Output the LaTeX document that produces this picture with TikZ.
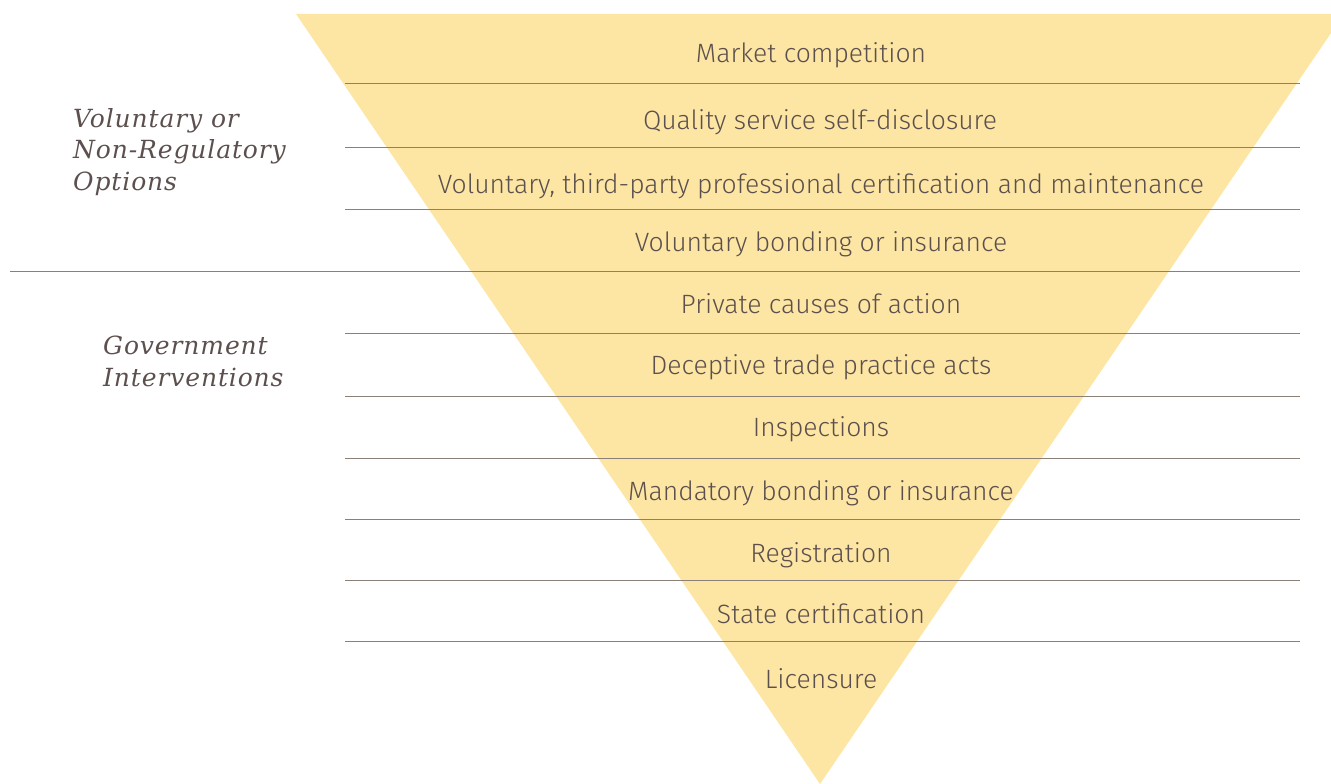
\documentclass[tikz,border=0pt]{standalone}
\usepackage{fontspec}
\setmainfont{Fira Sans Light}
\newfontfamily\labfont[LetterSpace=3.5]{DejaVu Serif}
\definecolor{fillc}{RGB}{253,230,163}
\definecolor{linec}{RGB}{140,128,118}
\definecolor{txtc}{RGB}{92,80,78}
\begin{document}
\begin{tikzpicture}[x=1pt,y=-1pt,
  row/.style={font=\fontsize{26.5}{30}\selectfont, text=txtc, inner sep=0pt, anchor=base},
  side/.style={font=\labfont\itshape\fontsize{25}{31.5}\selectfont, text=txtc, inner sep=0pt, anchor=base west, align=left},
  sep/.style={draw=linec, line width=1pt}]
\useasboundingbox (0,0) rectangle (1331,784);
\begin{scope}
\clip (0,0) rectangle (1331,784);
\fill[fillc] (296,14) -- (1344,14) -- (820,784) -- cycle;
\end{scope}
\foreach \y/\n in {84/a,147/b,209/c,333/e,396/f,458/g,519/h,580/i,641/j}{
  \coordinate (l\n) at (345,\y); \coordinate (r\n) at (1300,\y);
  \draw[sep] (l\n) -- (r\n);
}
\coordinate (ld) at (10,271); \coordinate (rd) at (1300,271);
\draw[sep] (ld) -- (rd);
\node[row] (t1) at (811,63) {Market competition};
\node[row] (t2) at (820,129) {Quality service self-disclosure};
\node[row] (t3) at (821,193) {Voluntary, third-party professional certification and maintenance};
\node[row] (t4) at (821,251) {Voluntary bonding or insurance};
\node[row] (t5) at (821,313) {Private causes of action};
\node[row] (t6) at (821,374) {Deceptive trade practice acts};
\node[row] (t7) at (821,436) {Inspections};
\node[row] (t8) at (821,500) {Mandatory bonding or insurance};
\node[row] (t9) at (821,562) {Registration};
\node[row] (t10) at (821,623) {State certification};
\node[row] (t11) at (821,688) {Licensure};
\node[side] (s1) at (73,190) {Voluntary or\\Non-Regulatory\\Options};
\node[side] (s2) at (103,386) {Government\\Interventions};
\end{tikzpicture}
\end{document}
